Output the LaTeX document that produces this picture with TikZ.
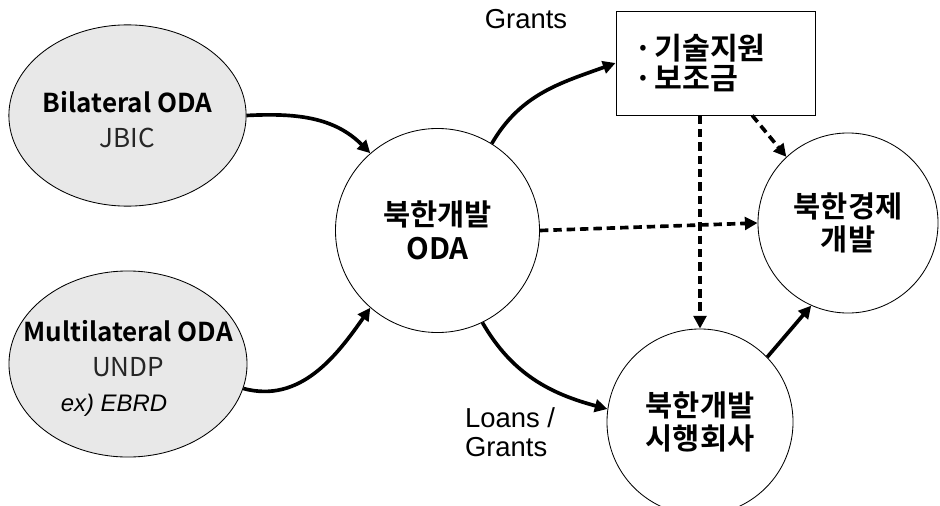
\documentclass[tikz,border=0pt]{standalone}
\usepackage{fontspec}
\setmainfont{Liberation Sans}
\newfontfamily\kr{Noto Sans CJK KR}[BoldFont={Noto Sans CJK KR Bold}]
\usetikzlibrary{shapes.geometric,arrows.meta}

\begin{document}
\begin{tikzpicture}[x=0.025cm,y=-0.025cm,
        src/.style={draw,ellipse,fill=gray!18,line width=0.6pt},
        srctxt/.style={align=center,font=\kr\fontsize{18.5}{25}\selectfont},
        circ/.style={draw,circle,line width=0.6pt,align=center,font=\kr\bfseries\fontsize{21}{24}\selectfont},
        flow/.style={line width=2.6pt,-{Triangle[length=9pt,width=9pt]}},
        dflow/.style={flow,dash pattern=on 6pt off 3.5pt},
        lbl/.style={font=\fontsize{19.5}{21}\selectfont,align=left}]
        \useasboundingbox(0,0)rectangle(940,506);
        \node(bi)at(127.5,115.5)[src,minimum width=5.93cm,minimum height=4.53cm]{};
        \node(bitxt)at(127.5,120)[srctxt]{{\bfseries Bilateral ODA}\\\textcolor{black!85}{JBIC}};
        \node(multi)at(128,364)[src,minimum width=5.95cm,minimum height=4.65cm]{};
        \node(multitxt)at(128,368.5)[srctxt]{{\bfseries Multilateral ODA}\\\textcolor{black!85}{UNDP}\\{\normalfont\itshape\fontsize{17}{20}\selectfont ex) EBRD}\hspace*{0.7cm}};
        \node(oda)at(437.5,230.5)[circ,minimum size=5.1cm]{북한개발\\ODA};
        \node(econ)at(848,223)[circ,minimum size=4.5cm]{북한경제\\개발};
        \node(firm)at(700,422)[circ,minimum size=4.65cm]{북한개발\\시행회사};
        \node(aid)at(715.5,63)[draw,rectangle,line width=0.6pt,minimum width=4.975cm,minimum height=2.6cm,inner xsep=0.475cm,text width=4.025cm,align=left,font=\kr\bfseries\fontsize{21.5}{21.5}\selectfont]{·\hspace{0.05em}기술지원\\·\hspace{0.05em}보조금};
        \node(grants)at(526,19)[lbl]{Grants};
        \node(loans)at(510,432)[lbl]{Loans /\\Grants};
        \draw[flow](bi.east)to[out=3,in=135](oda.131);
        \draw[flow](multi.-12)to[out=-15,in=235](oda.229);
        \draw[flow](oda.58)to[out=60,in=200](aid.west);
        \draw[flow](oda.-64)to[out=-60,in=165](firm.172);
        \draw[dflow](oda.east)--(econ.west);
        \draw[dflow](aid.south -| firm.north)--(firm.north);
        \draw[dflow](aid.-55)--(econ.133);
        \draw[flow](firm.44)--(econ.246);
    \end{tikzpicture}
\end{document}
